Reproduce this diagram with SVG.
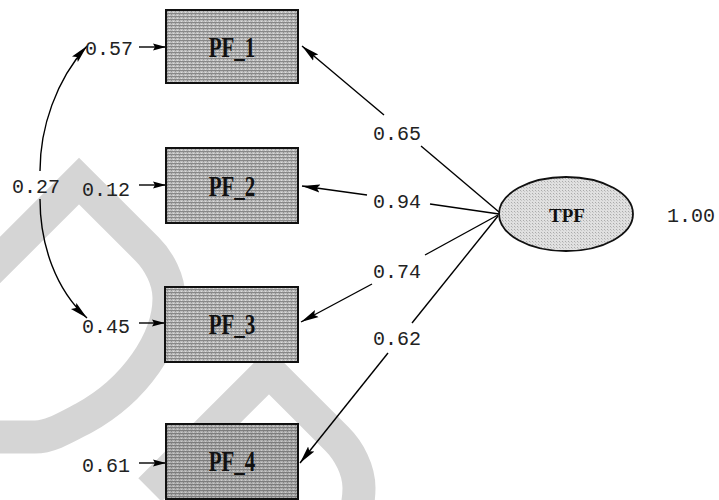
<svg xmlns="http://www.w3.org/2000/svg" width="719" height="500" viewBox="0 0 719 500">
<style>
.wm{fill:none;stroke:#d5d5d5;stroke-width:33;stroke-linejoin:miter}
.box{stroke:#111;stroke-width:2}
.ln{fill:none;stroke:#000;stroke-width:1.4}
.num{font-family:"Liberation Mono",monospace;font-size:20px;fill:#222}
.lab{font-family:"Liberation Serif",serif;font-size:21px;font-weight:bold;fill:#111;text-anchor:middle}
.tl{font-family:"Liberation Serif",serif;font-size:19px;font-weight:bold;fill:#111;text-anchor:middle}
</style>
<defs>
<pattern id="tx" width="4" height="3" patternUnits="userSpaceOnUse"><rect width="4" height="3" fill="#bdbdbd"/><rect y="1" width="4" height="1" fill="#888"/><rect x="1" width="1" height="1" fill="#dedede"/><rect x="3" y="2" width="1" height="1" fill="#929292"/></pattern>
<pattern id="tx2" width="3" height="3" patternUnits="userSpaceOnUse"><rect width="3" height="3" fill="#e0e0e0"/><rect x="1" y="1" width="1" height="1" fill="#ababab"/><rect x="2" y="2" width="1" height="1" fill="#c6c6c6"/></pattern>
<marker id="ah" markerWidth="20" markerHeight="10" refX="18" refY="5" orient="auto" markerUnits="userSpaceOnUse"><path d="M0,1 L18,5 L0,9 L3,5 Z" fill="#000"/></marker>
<marker id="as" markerWidth="14" markerHeight="8" refX="13" refY="4" orient="auto" markerUnits="userSpaceOnUse"><path d="M0,0.5 L13,4 L0,7.5 L2,4 Z" fill="#000"/></marker>
</defs>
<rect width="719" height="500" fill="#fff"/>
<g id="watermark">
<path class="wm" d="M-40,300 L79,181 L147,249 C159,261 169,280 169,298 C169,340 135,390 84,418 C65,428 50,437 35,437 L-40,437"/>
<path class="wm" transform="translate(190,190)" d="M-40,300 L79,181 L147,249 C159,261 169,280 169,298 C169,340 135,390 84,418 C65,428 50,437 35,437 L-40,437"/>
</g>
<g id="connectors">
<path class="ln" d="M499,212 L421,146"/>
<path class="ln" marker-end="url(#ah)" d="M384,115 L302,46"/>
<path class="ln" d="M499,214 L430,204"/>
<path class="ln" marker-end="url(#ah)" d="M367,195 L302,186"/>
<path class="ln" d="M498,215 L425,255"/>
<path class="ln" marker-end="url(#ah)" d="M372,284 L301,322"/>
<path class="ln" d="M498,216 L412,323"/>
<path class="ln" marker-end="url(#ah)" d="M388,353 L300,463"/>
<path class="ln" marker-end="url(#as)" d="M139,47 L166,47"/>
<path class="ln" marker-end="url(#as)" d="M139,185 L166,185"/>
<path class="ln" marker-end="url(#as)" d="M139,323 L165,323"/>
<path class="ln" marker-end="url(#as)" d="M139,463 L166,463"/>
<path class="ln" marker-end="url(#ah)" d="M40,171 C40,128 56,80 87,46"/>
<path class="ln" marker-end="url(#ah)" d="M40,199 C40,245 56,290 87,318"/>
</g>
<g id="PF_1">
<rect class="box" x="166" y="10" width="132" height="73" fill="url(#tx)"/>
<text class="lab" transform="translate(232,57) scale(1,1.4)">PF_1</text>
</g>
<g id="PF_2">
<rect class="box" x="166" y="148" width="132" height="75" fill="url(#tx)"/>
<text class="lab" transform="translate(232,196) scale(1,1.4)">PF_2</text>
</g>
<g id="PF_3">
<rect class="box" x="165" y="287" width="133" height="75" fill="url(#tx)"/>
<text class="lab" transform="translate(232,334) scale(1,1.4)">PF_3</text>
</g>
<g id="PF_4">
<rect class="box" x="166" y="424" width="132" height="75" fill="url(#tx)"/>
<rect x="167" y="425" width="130" height="73" fill="#000" fill-opacity="0.08"/>
<text class="lab" transform="translate(232,471) scale(1,1.4)">PF_4</text>
</g>
<g id="TPF">
<ellipse cx="566" cy="214" rx="67" ry="37" fill="url(#tx2)" stroke="#111" stroke-width="1.8"/>
<text class="tl" x="567" y="222">TPF</text>
</g>
<g id="labels">
<text class="num" x="85" y="55">0.57</text>
<text class="num" x="82" y="196">0.12</text>
<text class="num" x="12" y="193">0.27</text>
<text class="num" x="82" y="333">0.45</text>
<text class="num" x="82" y="472">0.61</text>
<text class="num" x="373" y="140">0.65</text>
<text class="num" x="373" y="208">0.94</text>
<text class="num" x="373" y="278">0.74</text>
<text class="num" x="373" y="345">0.62</text>
<text class="num" x="667" y="222">1.00</text>
</g>
</svg>
